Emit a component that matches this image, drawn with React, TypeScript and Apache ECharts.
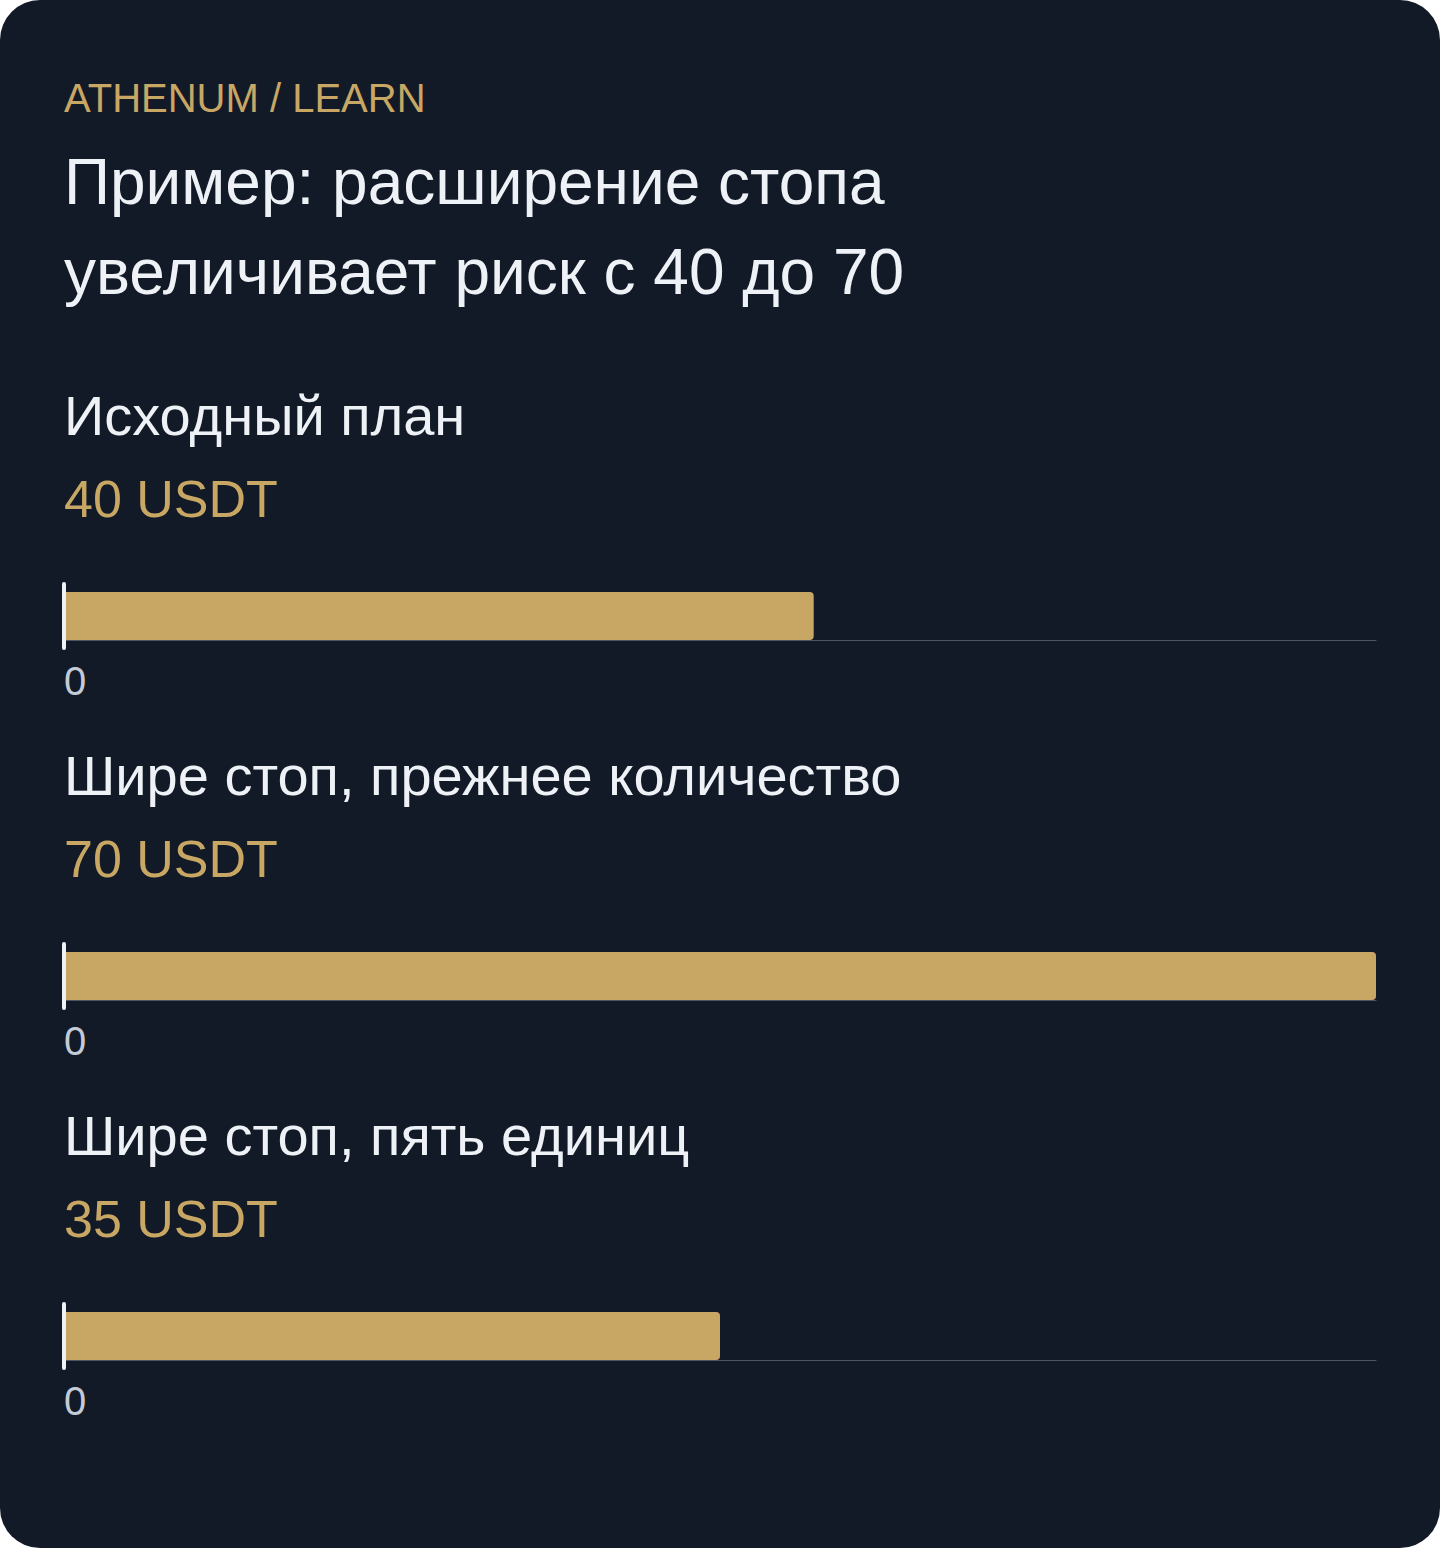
import React, { useEffect, useRef } from "react";
import * as echarts from "echarts";

const brand = "ATHENUM / LEARN";
const titleLines = ["Пример: расширение стопа", "увеличивает риск с 40 до 70"];
const categories = ["Исходный план", "Шире стоп, прежнее количество", "Шире стоп, пять единиц"];
const riskValues = [40, 70, 35];
const unit = "USDT";
const axisMin = 0;
const axisMax = 70;

const BG = "#131A27";
const GOLD = "#C8A764";
const WHITE = "#EEF2F7";
const LABEL = "#C4CBD6";
const AXIS = "#4B5563";
const FONT = "'Liberation Sans', Arial, Helvetica, sans-serif";

export default function App() {
  const ref = useRef<HTMLDivElement>(null);
  useEffect(() => {
    if (!ref.current) return;
    const chart = echarts.init(ref.current, undefined, { renderer: "svg" });
    const step = 360;
    const grids: any[] = [];
    const xAxes: any[] = [];
    const yAxes: any[] = [];
    const series: any[] = [];
    const graphic: any[] = [
      {
        type: "text",
        x: 64,
        y: 98,
        style: { text: brand, fill: GOLD, fontSize: 40, fontFamily: FONT, align: "left", verticalAlign: "middle" },
      },
      {
        type: "text",
        x: 64,
        y: 182,
        style: { text: titleLines[0], fill: WHITE, fontSize: 64, fontFamily: FONT, align: "left", verticalAlign: "middle" },
      },
      {
        type: "text",
        x: 64,
        y: 272,
        style: { text: titleLines[1], fill: WHITE, fontSize: 64, fontFamily: FONT, align: "left", verticalAlign: "middle" },
      },
    ];
    categories.forEach((cat, i) => {
      const off = i * step;
      graphic.push({
        type: "text",
        x: 64,
        y: 415.5 + off,
        style: { text: cat, fill: WHITE, fontSize: 56, fontFamily: FONT, align: "left", verticalAlign: "middle" },
      });
      graphic.push({
        type: "text",
        x: 64,
        y: 499 + off,
        style: { text: `${riskValues[i]} ${unit}`, fill: GOLD, fontSize: 52, fontFamily: FONT, align: "left", verticalAlign: "middle" },
      });
      grids.push({ left: 64, right: 64, top: 584 + off, height: 64, containLabel: false });
      xAxes.push({
        type: "value",
        gridIndex: i,
        min: axisMin,
        max: axisMax,
        interval: axisMax - axisMin,
        offset: -8,
        axisLine: { show: true, lineStyle: { color: AXIS, width: 1 } },
        axisTick: { show: false },
        splitLine: { show: false },
        axisLabel: {
          showMaxLabel: false,
          color: LABEL,
          fontSize: 40,
          fontFamily: FONT,
          align: "left",
          margin: 21,
        },
      });
      yAxes.push({
        type: "category",
        gridIndex: i,
        data: [cat],
        z: 5,
        axisLine: { show: true, lineStyle: { color: WHITE, width: 4 } },
        axisTick: { show: false },
        axisLabel: { show: false },
        splitLine: { show: false },
      });
      series.push({
        type: "bar",
        xAxisIndex: i,
        yAxisIndex: i,
        data: [riskValues[i]],
        barWidth: 48,
        itemStyle: { color: GOLD, borderRadius: [0, 4, 4, 0] },
        label: { show: false },
        silent: true,
      });
    });
    chart.setOption({
      animation: false,
      backgroundColor: "transparent",
      textStyle: { fontFamily: FONT },
      grid: grids,
      xAxis: xAxes,
      yAxis: yAxes,
      series,
      graphic,
    });
    return () => chart.dispose();
  }, []);
  return (
    <div
      style={{
        position: "absolute",
        left: 0,
        top: 0,
        width: 1440,
        height: 1548,
        background: BG,
        borderRadius: 40,
        overflow: "hidden",
      }}
    >
      <div ref={ref} style={{ width: 1440, height: 1548 }} />
    </div>
  );
}
